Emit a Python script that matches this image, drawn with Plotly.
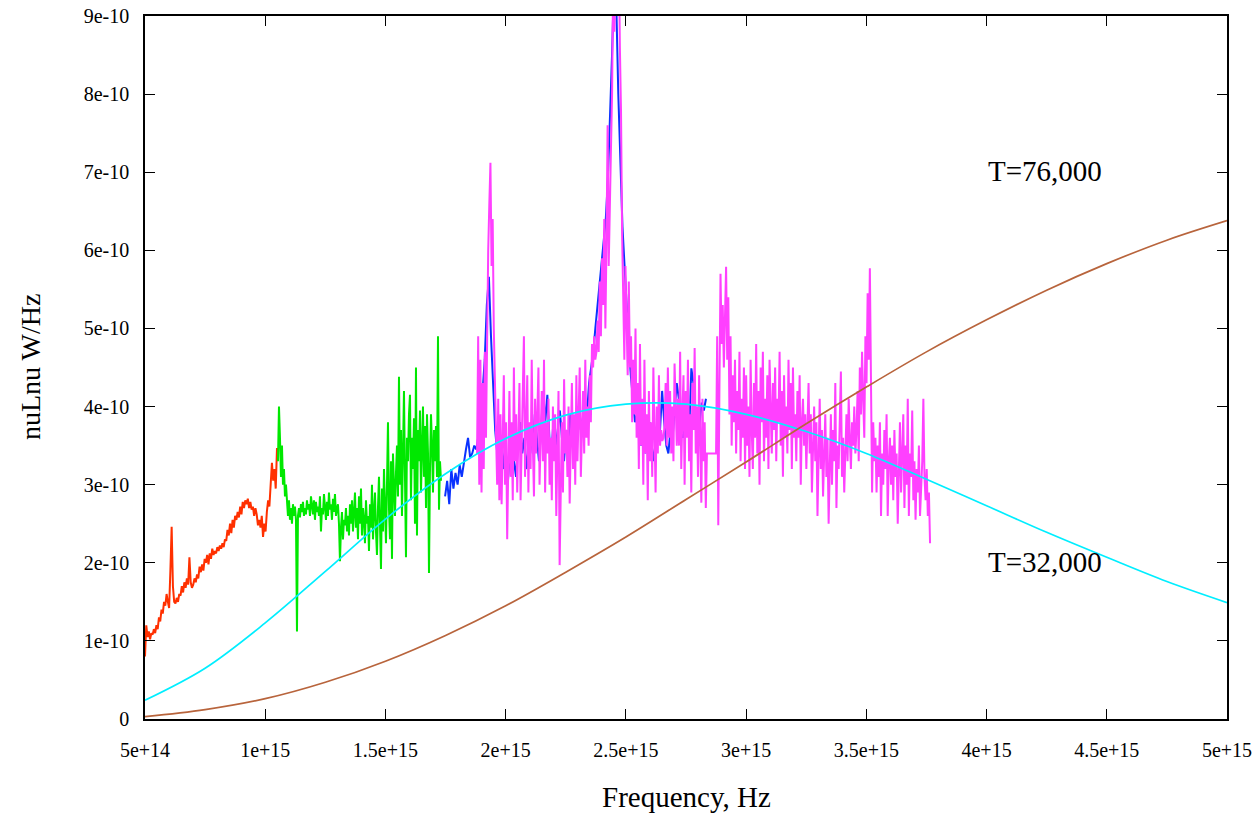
import numpy as np
import plotly.graph_objects as go

# ---- Observed spectrum, nuLnu in units of 1e-10 W/Hz ----
# Each segment is sampled on a uniform frequency grid between its start and end (Hz).
red_span = (0.500e15, 1.049e15)
red_vals = [
    0.8, 1.2, 1.05, 1.12, 1.02, 1.1, 1.08, 1.15,
    1.1, 1.2, 1.15, 1.3, 1.25, 1.4, 1.35, 1.5,
    1.45, 1.6, 1.5, 1.42, 1.9, 2.46, 1.7, 1.5,
    1.48, 1.55, 1.5, 1.6, 1.58, 1.7, 1.62, 1.75,
    1.68, 1.8, 1.72, 2.07, 1.75, 1.68, 1.72, 1.8,
    1.75, 1.85, 1.8, 1.95, 1.88, 1.98, 1.9, 2.05,
    2.0, 2.1, 1.98, 2.12, 2.05, 2.18, 2.1, 2.15,
    2.12, 2.2, 2.15, 2.22, 2.18, 2.25, 2.2, 2.3,
    2.28, 2.42, 2.35, 2.5, 2.38, 2.55, 2.45, 2.6,
    2.55, 2.65, 2.58, 2.72, 2.62, 2.78, 2.7, 2.8,
    2.75, 2.82, 2.7, 2.78, 2.68, 2.72, 2.6, 2.7,
    2.62, 2.48, 2.55, 2.45, 2.6, 2.33, 2.5, 2.4,
    2.65, 2.8, 2.72, 3.1, 3.28, 3.05, 3.2, 2.95, 3.47,
]

green_span = (1.053e15, 1.731e15)
green_vals = [
    3.3, 4.0, 3.6, 3.1, 3.5, 3.0, 3.2, 2.85, 3.0, 2.75,
    2.6, 2.8, 2.55, 2.7, 2.5, 2.75, 2.6, 2.72, 2.55, 1.12,
    2.6, 2.7, 2.58, 2.75, 2.65, 2.78, 2.6, 2.7, 2.62, 2.8,
    2.68, 2.75, 2.6, 2.85, 2.7, 2.62, 2.8, 2.55, 2.78, 2.65,
    2.72, 2.6, 2.85, 2.4, 2.7, 2.62, 2.88, 2.7, 2.55, 2.78,
    2.6, 2.9, 2.68, 2.75, 2.55, 2.82, 2.65, 2.88, 2.6, 2.7,
    2.75, 2.5, 2.02, 2.45, 2.65, 2.3, 2.55, 2.48, 2.7, 2.4,
    2.6, 2.35, 2.75, 2.5, 2.8, 2.4, 2.65, 2.9, 2.45, 2.7,
    2.3, 2.85, 2.5, 2.95, 2.35, 2.7, 2.55, 2.25, 2.8, 2.5,
    2.6, 2.15, 2.75, 2.45, 3.0, 2.3, 2.65, 2.9, 2.4, 2.1,
    2.7, 3.1, 2.5, 1.92, 2.95, 2.4, 3.2, 2.6, 2.25, 3.0,
    3.8, 2.7, 2.3, 3.3, 2.05, 3.4, 2.9, 2.6, 3.15, 3.5,
    2.85, 4.38, 3.0, 3.7, 2.6, 3.4, 4.2, 3.1, 2.07, 3.6,
    3.3, 3.9, 4.15, 2.8, 3.6, 3.2, 3.85, 2.5, 4.5, 2.35,
    3.7, 3.3, 3.95, 2.9, 3.5, 4.0, 3.1, 3.75, 2.7, 3.9,
    3.4, 1.87, 3.2, 3.9, 3.5, 2.9, 3.7, 3.3, 3.75, 3.1, 4.9, 2.68, 3.3, 3.05,
]

blue_span = (1.748e15, 2.833e15)
blue_vals = [
    2.85, 3.05, 2.75, 3.2, 2.95, 3.15, 3.0, 3.25, 3.1, 3.3, 3.45, 3.6, 3.35, 3.4, 3.5, 3.45,
    3.6, 3.8, 4.2, 4.6, 5.3, 5.66, 4.9, 4.2, 3.7, 3.4,
    3.3, 3.6, 3.2, 3.5, 3.0, 3.4, 3.7, 3.3, 3.1, 3.55,
    3.8, 3.4, 3.6, 3.2, 3.5, 3.75, 3.4, 3.9, 3.6, 3.3,
    3.7, 4.2, 3.8, 4.15, 3.6, 3.4, 3.85, 3.5, 3.7, 3.95,
    3.6, 3.3, 3.7, 3.5, 3.9, 3.6, 3.8, 3.5, 4.0, 3.7,
    3.85, 4.1, 3.9, 4.3, 4.5, 4.7, 5.0, 5.3, 5.6, 5.9,
    6.1, 6.4, 6.9, 7.6, 8.5, 9.5, 9.2, 8.0, 7.2, 6.3,
    5.8, 5.2, 4.8, 4.4, 4.1, 3.8, 3.9, 3.6, 3.5, 3.7,
    3.4, 3.6, 3.8, 3.5, 3.3, 3.6, 3.9, 3.7, 4.2, 3.8,
    3.5, 3.4, 3.7, 3.6, 3.9, 4.3, 4.1, 3.8, 3.6, 3.9,
    4.0, 3.7, 4.49, 4.3, 3.9, 3.6, 3.8, 4.05, 3.95, 4.1,
]

# magenta spectrum comes in two pieces separated by a small data gap
magenta_a_span = (1.881e15, 2.837e15)
magenta_a_vals = [
    3.4, 4.9, 3.0, 4.6, 2.9, 4.3, 3.2, 4.7, 3.6,
    5.2, 6.0, 6.6, 7.12, 5.8, 6.4, 5.0, 4.2, 3.6,
    3.0, 4.1, 2.8, 3.9, 2.75, 3.6, 4.4, 3.0, 3.8,
    2.3, 3.5, 4.2, 3.1, 3.8, 2.8, 4.5, 3.3, 3.9,
    2.9, 3.7, 4.3, 2.8, 3.4, 4.0, 4.9, 3.1, 3.6,
    4.4, 2.9, 3.8, 3.2, 4.6, 3.5, 2.85, 4.1, 3.4,
    3.9, 4.5, 3.0, 3.7, 4.2, 3.3, 4.6, 2.9, 3.8,
    3.4, 4.1, 3.0, 3.6, 2.8, 4.0, 3.3, 3.9, 2.6,
    3.5, 4.2, 1.97, 3.2, 3.8, 2.9, 4.35, 3.4, 3.7,
    3.1, 4.0, 2.76, 3.6, 4.3, 3.2, 3.9, 3.0, 4.4,
    3.3, 3.8, 4.5, 3.1, 3.7, 4.2, 3.4, 4.6, 3.6,
    4.0, 3.5, 4.4, 3.8, 4.8, 4.5, 4.9, 4.6, 4.7,
    5.1, 4.7, 5.6, 4.9, 5.9, 5.3, 6.4, 5.0, 6.1,
    7.6, 5.8, 6.8, 7.3, 8.0, 9.5, 8.8, 9.6, 9.8,
    9.5, 9.9, 8.6, 7.8, 6.2, 5.6, 4.6, 5.8, 5.2,
    4.4, 5.6, 4.5, 4.9, 3.8, 4.6, 3.9, 5.0, 3.6,
    4.3, 3.2, 4.8, 3.5, 4.1, 3.0, 4.6, 3.4, 3.9,
    2.8, 4.2, 3.3, 3.8, 3.1, 4.5, 3.6, 2.9, 4.0,
    3.4, 4.4, 3.5, 3.7, 3.56, 3.6, 3.75, 4.3, 3.5,
    4.5, 3.6, 4.2, 3.4, 4.0, 3.3, 4.55, 3.8, 3.5,
    4.1, 3.5, 4.7, 3.2, 3.9, 4.4, 3.0, 4.2, 3.6,
    4.6, 3.3, 3.9, 2.9, 4.3, 3.7, 4.75, 3.4, 4.0,
    3.1, 4.4, 3.6, 2.77, 4.1, 3.3, 3.8, 2.7, 3.4,
]

magenta_b_span = (2.875e15, 3.765e15)
magenta_b_vals = [
    3.4, 4.9, 2.48, 4.2, 5.7, 4.8, 5.3, 4.5, 5.1,
    5.79, 4.6, 5.4, 3.9, 4.9, 3.5, 4.4, 3.8, 4.6,
    3.4, 4.2, 3.7, 4.7, 3.3, 4.1, 3.6, 4.5, 3.2,
    4.4, 3.5, 4.0, 3.1, 4.6, 3.7, 3.2, 4.3, 3.6,
    4.8, 3.4, 4.2, 3.0, 4.5, 3.8, 4.7, 3.3, 4.1,
    3.6, 4.4, 3.2, 4.6, 3.9, 3.4, 4.3, 3.7, 4.5,
    3.3, 4.1, 3.8, 4.7, 3.5, 4.2, 3.1, 4.4, 3.6,
    4.0, 3.4, 4.6, 3.7, 4.3, 3.2, 4.5, 3.6, 3.9,
    3.3, 4.2, 3.6, 4.4, 3.0, 3.8, 4.1, 3.5, 3.9,
    3.2, 3.7, 4.3, 3.4, 3.9, 2.9, 3.6, 4.0, 3.3,
    3.8, 2.6, 3.5, 4.1, 3.2, 3.7, 2.85, 3.4, 3.9,
    3.1, 3.6, 2.5, 3.4, 3.9, 3.0, 3.7, 3.3, 4.3,
    2.7, 3.5, 3.2, 3.8, 4.45, 3.1, 3.6, 2.9, 3.4,
    3.9, 3.3, 4.1, 3.6, 3.2, 3.8, 3.5, 4.0, 3.4,
    3.7, 4.2, 3.3, 4.5, 3.9, 4.7, 4.1, 3.6, 4.9,
    4.3, 5.45, 4.6, 5.77, 4.0, 2.9, 3.8, 3.3, 3.6,
    2.9, 3.5, 3.1, 3.8, 2.6, 3.4, 3.0, 3.7, 3.2,
    3.9, 2.6, 3.3, 3.6, 3.0, 3.5, 2.8, 3.7, 3.1,
    3.4, 2.5, 3.2, 3.8, 2.9, 3.3, 3.9, 2.7, 3.5,
    3.0, 4.1, 2.6, 3.4, 3.1, 3.95, 2.8, 3.3, 2.55,
    3.2, 2.9, 3.5, 2.6, 3.0, 3.3, 4.1, 3.1, 2.8,
    3.2, 2.6, 2.9, 2.25,
]

# ---- Blackbody curves, nuLnu in units of 1e-10 W/Hz ----
bb_freq = [0.50e15, 0.75e15, 1.00e15, 1.25e15, 1.50e15, 1.75e15, 2.00e15,
           2.25e15, 2.50e15, 2.75e15, 3.00e15, 3.25e15, 3.50e15, 3.75e15,
           4.00e15, 4.25e15, 4.50e15, 4.75e15, 5.00e15]
bb_32000 = [0.24, 0.65, 1.23, 1.89, 2.56, 3.14, 3.59, 3.89, 4.03, 4.03,
            3.90, 3.68, 3.40, 3.07, 2.73, 2.39, 2.07, 1.76, 1.49]
bb_76000 = [0.03, 0.12, 0.26, 0.47, 0.74, 1.07, 1.45, 1.88, 2.33, 2.81,
            3.29, 3.78, 4.25, 4.70, 5.11, 5.49, 5.83, 6.13, 6.38]

x_ticks = [0.5e15, 1.0e15, 1.5e15, 2.0e15, 2.5e15, 3.0e15, 3.5e15, 4.0e15, 4.5e15, 5.0e15]
x_tick_text = ["5e+14", "1e+15", "1.5e+15", "2e+15", "2.5e+15", "3e+15",
               "3.5e+15", "4e+15", "4.5e+15", "5e+15"]
y_ticks = [0, 1, 2, 3, 4, 5, 6, 7, 8, 9]
y_tick_text = ["0", "1e-10", "2e-10", "3e-10", "4e-10", "5e-10",
               "6e-10", "7e-10", "8e-10", "9e-10"]

SCALE = 1e-10
FONT = "Liberation Serif, Times New Roman, serif"
LW = 2.0


def grid(span, vals):
    return np.linspace(span[0], span[1], len(vals))


fig = go.Figure()


def spectrum(x, y, color):
    fig.add_trace(go.Scatter(
        x=x, y=np.asarray(y) * SCALE, mode="lines",
        line=dict(color=color, width=LW), hoverinfo="skip",
    ))


spectrum(grid(red_span, red_vals), red_vals, "#ff3000")
spectrum(grid(green_span, green_vals), green_vals, "#00e800")
spectrum(grid(blue_span, blue_vals), blue_vals, "#0a32ff")
mag_x = np.concatenate([grid(magenta_a_span, magenta_a_vals),
                        grid(magenta_b_span, magenta_b_vals)])
mag_y = list(magenta_a_vals) + list(magenta_b_vals)
spectrum(mag_x, mag_y, "#ff40ff")

fig.add_trace(go.Scatter(
    x=bb_freq, y=np.asarray(bb_32000) * SCALE, mode="lines",
    line=dict(color="#00eeff", width=1.7, shape="spline"), hoverinfo="skip",
))
fig.add_trace(go.Scatter(
    x=bb_freq, y=np.asarray(bb_76000) * SCALE, mode="lines",
    line=dict(color="#b8643c", width=1.7, shape="spline"), hoverinfo="skip",
))

axis_common = dict(
    showline=True, linecolor="black", linewidth=1.5, mirror="ticks",
    ticks="inside", ticklen=10, tickwidth=1, tickcolor="black",
    showgrid=False, zeroline=False, automargin=False,
    tickfont=dict(family=FONT, size=20, color="black"),
)

fig.update_layout(
    width=1255, height=813,
    margin=dict(l=145, r=28, t=16, b=94, autoexpand=False),
    paper_bgcolor="white", plot_bgcolor="white",
    showlegend=False,
    xaxis=dict(range=[0.5e15, 5.0e15], tickvals=x_ticks, ticktext=x_tick_text,
               ticklabelstandoff=12, **axis_common),
    yaxis=dict(range=[0, 9 * SCALE], tickvals=[v * SCALE for v in y_ticks],
               ticktext=y_tick_text, ticklabelstandoff=10, **axis_common),
    annotations=[
        dict(text="Frequency, Hz", xref="paper", yref="paper", x=0.5, y=-0.111,
             showarrow=False, font=dict(family=FONT, size=29, color="black"),
             xanchor="center", yanchor="middle"),
        dict(text="nuLnu W/Hz", xref="paper", yref="paper", x=-0.1063, y=0.5007,
             textangle=-90, showarrow=False,
             font=dict(family=FONT, size=28, color="black"),
             xanchor="center", yanchor="middle"),
        dict(text="T=76,000", x=4.243e15, y=7.02 * SCALE, showarrow=False,
             font=dict(family=FONT, size=29, color="black"),
             xanchor="center", yanchor="middle"),
        dict(text="T=32,000", x=4.243e15, y=2.01 * SCALE, showarrow=False,
             font=dict(family=FONT, size=29, color="black"),
             xanchor="center", yanchor="middle"),
    ],
)

fig.write_html("out.html")
